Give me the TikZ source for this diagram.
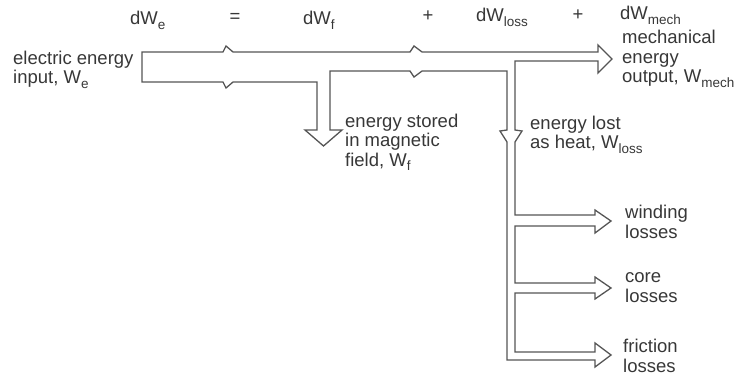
\documentclass[tikz,border=0pt]{standalone}
\usepackage{fontspec}
\setmainfont{Liberation Sans}
\usetikzlibrary{positioning}
\definecolor{bandgray}{RGB}{85,85,85}
\definecolor{txtgray}{RGB}{55,55,55}
\newcommand\lowsub[1]{\raisebox{-4.5pt}{\fontsize{13.5}{13.5}\selectfont #1}}

\begin{document}
\begin{tikzpicture}[x=1pt, y=-1pt,
  font=\fontsize{18.5}{19.5}\selectfont,
  band/.style={draw=bandgray, line width=1.3pt},
  lbl/.style={anchor=base west, align=left, inner sep=0pt, text=txtgray}]
  \useasboundingbox (0,0) rectangle (744,377);

  % energy band outline
  \draw[band] (305,130) -- (323.5,146) -- (342,130) -- (330,130) -- (330,71)
    -- (410,71) -- (414,77) -- (422,71) -- (507,71)
    -- (507,130) -- (500,131) -- (507,142) -- (507,360)
    -- (595,360) -- (595,367) -- (611,355) -- (595,343) -- (595,352) -- (515,352)
    -- (515,293) -- (595,293) -- (595,299) -- (611,288) -- (595,277) -- (595,283) -- (515,283)
    -- (515,226) -- (595,226) -- (595,233) -- (611,221) -- (595,210) -- (595,215) -- (515,215)
    -- (515,142) -- (522,131) -- (515,130) -- (515,61)
    -- (598,61) -- (598,73) -- (612,59) -- (598,45) -- (598,52)
    -- (422,52) -- (414,46) -- (410,52) -- (233,52) -- (226,46) -- (223,52)
    -- (142,52) -- (142,82) -- (223,82) -- (226,88) -- (233,82) -- (317,82)
    -- (317,130) -- cycle;

  % balance equation
  \node[lbl] (eqWe) at (130,25) {dW\lowsub{e}};
  \node[lbl, anchor=base] (eqEq) at (235,23) {=};
  \node[lbl] (eqWf) at (303,25) {dW\lowsub{f}};
  \node[lbl, anchor=base] (eqPlusA) at (428,22) {+};
  \node[lbl] (eqWloss) at (476,22) {dW\lowsub{loss}};
  \node[lbl, anchor=base] (eqPlusB) at (578,21) {+};
  \node[lbl] (eqWmech) at (620,20) {dW\lowsub{mech}};

  % input and outputs (base = last line)
  \node[lbl] (inElec) at (13,84) {electric energy\\input, W\lowsub{e}};
  \node[lbl] (outMech) at (622,83) {mechanical\\energy\\output, W\lowsub{mech}};
  \node[lbl] (fieldStore) at (345,166) {energy stored\\in magnetic\\field,\ W\lowsub{f}};
  \node[lbl] (heatLoss) at (530,149) {energy lost\\as heat,\ W\lowsub{loss}};

  % loss branches
  \node[lbl] (lossWind) at (625,238) {winding\\losses};
  \node[lbl] (lossCore) at (625,302) {core\\losses};
  \node[lbl] (lossFric) at (623,372) {friction\\losses};

\end{tikzpicture}
\end{document}
